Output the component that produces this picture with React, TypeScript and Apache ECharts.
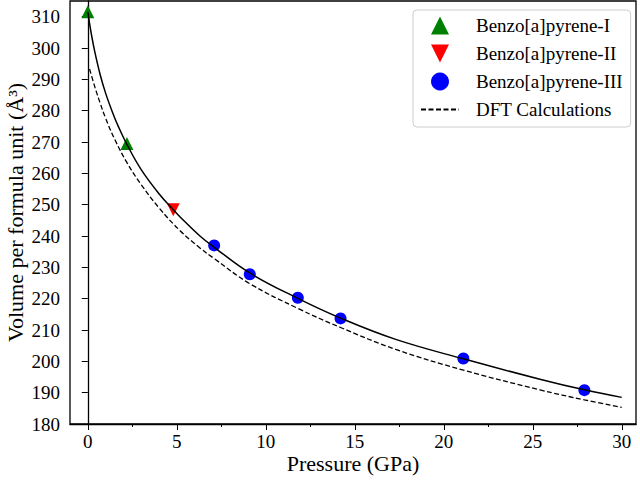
import React, { useEffect, useRef } from "react";
import * as echarts from "echarts";

// ---- data ----
const phaseIP = [0, 2.2];
const phaseIV = [311.6, 269.5];
const phaseIIP = [4.8];
const phaseIIV = [248.4];
const phaseIIIP = [7.1, 9.1, 11.8, 14.2, 21.1, 27.9];
const phaseIIIV = [237.0, 227.8, 220.3, 213.7, 200.9, 190.8];

const fitP = [0, 0.1, 0.2, 0.4, 0.7, 1.0, 1.38, 1.72, 2.2, 3.0, 4.0, 4.83, 5.2, 6.3, 7.1, 9.1, 11.8, 14.2, 17.3, 21.1, 25.4, 27.9, 30];
const fitV = [311.5, 307.9, 304.4, 298.6, 291.4, 285.6, 279.6, 274.9, 269.2, 261.2, 253.5, 248.2, 246.0, 240.0, 236.4, 228.2, 220.1, 213.8, 207.0, 200.8, 194.3, 190.9, 188.5];

const dftP = [0.1, 0.4, 0.7, 1.0, 1.5, 2.2, 3.0, 4.0, 5.2, 6.3, 7.1, 9.1, 11.8, 14.2, 17.3, 21.1, 25.4, 27.9, 30];
const dftV = [293.3, 287.5, 282.3, 277.6, 271.0, 263.4, 256.4, 249.0, 241.6, 236.2, 232.8, 224.8, 216.9, 210.8, 203.8, 197.2, 190.9, 187.7, 185.3];

const xMajorTicks = [0, 5, 10, 15, 20, 25, 30];
const xMinorTicks = [2.5, 7.5, 12.5, 17.5, 22.5, 27.5];
const yTicks = [180, 190, 200, 210, 220, 230, 240, 250, 260, 270, 280, 290, 300, 310];

const names = ["Benzo[a]pyrene-I", "Benzo[a]pyrene-II", "Benzo[a]pyrene-III", "DFT Calculations"];

const zip = (a: number[], b: number[]) => a.map((v, i) => [v, b[i]]);

const FONT = "'Liberation Serif', 'DejaVu Serif', serif";
const TRI_UP = "path://M1,0L2,2L0,2Z";
const TRI_DOWN = "path://M0,0L2,0L1,2Z";

export default function App() {
  const ref = useRef<HTMLDivElement>(null);
  useEffect(() => {
    document.body.style.margin = "0";
    if (!ref.current) return;
    const chart = echarts.init(ref.current, undefined, { renderer: "svg" });
    const tickLabel = { fontSize: 19, fontFamily: FONT, color: "#000" };
    chart.setOption({
      animation: false,
      backgroundColor: "#fff",
      grid: {
        left: 70,
        right: 4,
        top: 1,
        bottom: 56,
        show: true,
        borderColor: "#000",
        borderWidth: 1.3,
        containLabel: false,
        outerBoundsMode: "none",
      },
      legend: {
        orient: "vertical",
        left: 413,
        top: 10,
        padding: [6, 8, 8, 7],
        itemWidth: 38,
        itemHeight: 18,
        itemGap: 9,
        symbolKeepAspect: true,
        borderColor: "#cccccc",
        borderWidth: 1,
        borderRadius: 4,
        backgroundColor: "rgba(255,255,255,0.8)",
        data: [
          { name: names[0], icon: TRI_UP },
          { name: names[1], icon: TRI_DOWN },
          { name: names[2], icon: "circle" },
          { name: names[3], itemStyle: { opacity: 0, color: "rgba(0,0,0,0)", borderWidth: 0 } },
        ],
        textStyle: { fontSize: 19, fontFamily: FONT, color: "#000", padding: [0, 0, 0, 12] },
      },
      xAxis: [
        {
          type: "value",
          min: -1,
          max: 30.8,
          name: "Pressure (GPa)",
          nameLocation: "middle",
          nameGap: 28,
          nameMoveOverlap: false,
          nameTextStyle: { fontSize: 22, fontFamily: FONT, color: "#000" },
          axisLine: { show: true, lineStyle: { color: "#000", width: 1.3 } },
          axisTick: { show: true, length: 6, lineStyle: { color: "#000", width: 1 }, customValues: xMajorTicks },
          axisLabel: { ...tickLabel, margin: 8, customValues: xMajorTicks },
          splitLine: { show: false },
        },
        {
          type: "value",
          min: -1,
          max: 30.8,
          position: "bottom",
          axisLine: { show: false },
          axisTick: { show: true, length: 3, lineStyle: { color: "#000", width: 1 }, customValues: xMinorTicks },
          axisLabel: { show: false },
          splitLine: { show: false },
        },
      ],
      yAxis: {
        type: "value",
        min: 180,
        max: 315,
        name: "Volume per formula unit (Å³)",
        nameLocation: "middle",
        nameGap: 44,
        nameMoveOverlap: false,
        nameTextStyle: { fontSize: 22, fontFamily: FONT, color: "#000" },
        axisLine: { show: true, lineStyle: { color: "#000", width: 1.3 } },
        axisTick: { show: true, length: 6, lineStyle: { color: "#000", width: 1 }, customValues: yTicks },
        axisLabel: { ...tickLabel, margin: 10, customValues: yTicks },
        splitLine: { show: false },
      },
      series: [
        {
          name: names[0],
          type: "scatter",
          symbol: TRI_UP,
          symbolSize: 13,
          itemStyle: { color: "#008000", opacity: 1 },
          data: zip(phaseIP, phaseIV),
          z: 2,
        },
        {
          name: names[1],
          type: "scatter",
          symbol: TRI_DOWN,
          symbolSize: 13,
          itemStyle: { color: "#ff0000", opacity: 1 },
          data: zip(phaseIIP, phaseIIV),
          z: 2,
        },
        {
          name: names[2],
          type: "scatter",
          symbol: "circle",
          symbolSize: 12,
          itemStyle: { color: "#0000ff", opacity: 1 },
          data: zip(phaseIIIP, phaseIIIV),
          z: 2,
        },
        {
          name: names[3],
          type: "line",
          showSymbol: false,
          symbol: "none",
          smooth: 0.4,
          lineStyle: { color: "#000", width: 1.3, type: [5, 2.5] },
          itemStyle: { color: "#000" },
          data: zip(dftP, dftV),
          z: 3,
        },
        {
          name: "fit",
          type: "line",
          showSymbol: false,
          symbol: "none",
          smooth: 0.4,
          lineStyle: { color: "#000", width: 1.5 },
          itemStyle: { color: "#000" },
          data: zip(fitP, fitV),
          z: 3,
        },
      ],
    });
    return () => chart.dispose();
  }, []);
  return <div ref={ref} style={{ position: "absolute", left: 0, top: 0, width: 640, height: 480 }} />;
}
